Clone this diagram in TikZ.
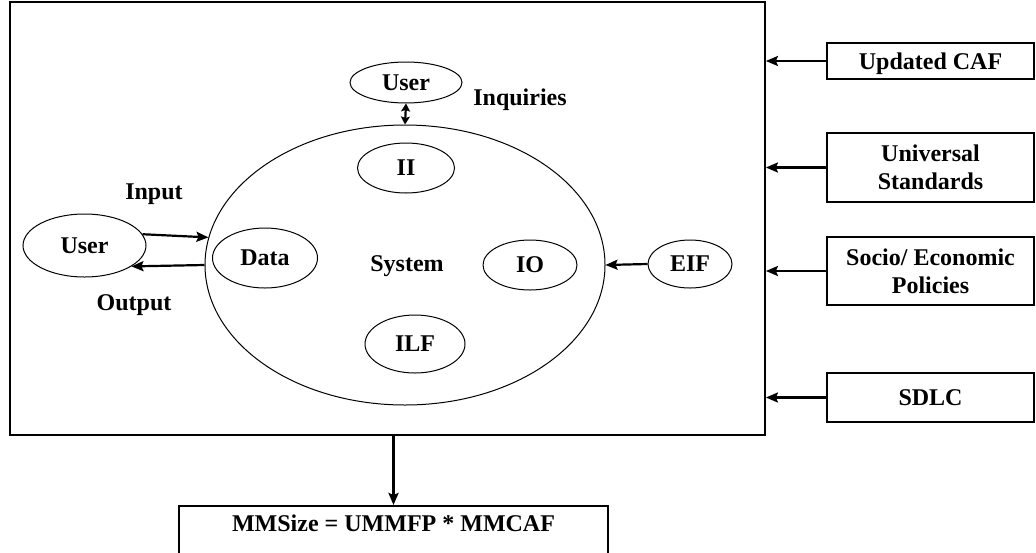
\documentclass[tikz,border=0pt]{standalone}
\usepackage{fontspec}
\setmainfont{Liberation Serif}
\usetikzlibrary{shapes.geometric,arrows.meta}

\begin{document}
\begin{tikzpicture}[
    x=0.5pt, y=-0.5pt,
    font=\fontsize{12}{13.8}\selectfont\bfseries,
    box/.style={rectangle, draw, line width=0.9pt, align=center, inner sep=0pt},
    oval/.style={ellipse, draw, line width=0.5pt, inner sep=0pt},
    arrow/.style={-{Stealth[length=6pt, width=5pt, inset=1pt]}, line width=1.1pt},
    biarrow/.style={{Stealth[length=4pt, width=4.5pt, inset=0.8pt]}-{Stealth[length=4pt, width=4.5pt, inset=0.8pt]}, line width=1.1pt}
]
\useasboundingbox (0,0) rectangle (1036,552);

% System boundary
\node[box, minimum width=377.5pt, minimum height=216.5pt] (sys) at (387.5,218.5) {};
\node[oval, minimum width=200pt, minimum height=140pt] (circ) at (405,265) {};
\node (system) at (407,266) {System};

% Inside the system
\node[oval, minimum width=48.5pt, minimum height=25pt] (ii) at (406,168) {II};
\node[oval, minimum width=52.5pt, minimum height=30pt] (data) at (265,258) {Data};
\node[oval, minimum width=47pt, minimum height=25pt] (io) at (530,265) {IO};
\node[oval, minimum width=50pt, minimum height=29pt] (ilf) at (415,344) {ILF};

% Users and external files
\node[oval, minimum width=56pt, minimum height=20.5pt] (utop) at (406,82.5) {User};
\node (inq) at (520,100) {Inquiries};
\node[oval, minimum width=61.5pt, minimum height=31.5pt] (uleft) at (84.5,245.5) {User};
\node (input) at (154,194) {Input};
\node (output) at (134,305) {Output};
\node[oval, minimum width=42pt, minimum height=24pt] (eif) at (690,264) {EIF};

% Outside factors
\node[box, minimum width=103.5pt, minimum height=18pt, text height=11pt, text depth=3pt] (caf) at (930.5,61) {Updated CAF};
\node[box, minimum width=103.5pt, minimum height=34.5pt] (std) at (930.5,167.5) {Universal\\Standards};
\node[box, minimum width=103.5pt, minimum height=34pt] (soc) at (930.5,271) {Socio/ Economic\\Policies};
\node[box, minimum width=103.5pt, minimum height=24.5pt] (sdlc) at (930.5,397.5) {SDLC};

% Result
\node[box, anchor=north, minimum width=214.5pt, inner ysep=4pt, text height=9pt, text depth=16pt] (mm) at (393.5,505) {MMSize = UMMFP * MMCAF};

% Arrows
\draw[biarrow] (utop.south) -- (circ.north);
\draw[arrow] (uleft.11) -- (circ.172);
\draw[arrow] (circ.west) -- (uleft.-24);
\draw[arrow] (eif.west) -- (circ.east);

\draw[arrow] (caf.west) -- (caf.west -| sys.east);
\draw[arrow] (std.west) -- (std.west -| sys.east);
\draw[arrow] (soc.west) -- (soc.west -| sys.east);
\draw[arrow] (sdlc.west) -- (sdlc.west -| sys.east);

\draw[arrow, line width=1.6pt] (mm.north |- sys.south) -- (mm.north);

\end{tikzpicture}
\end{document}
